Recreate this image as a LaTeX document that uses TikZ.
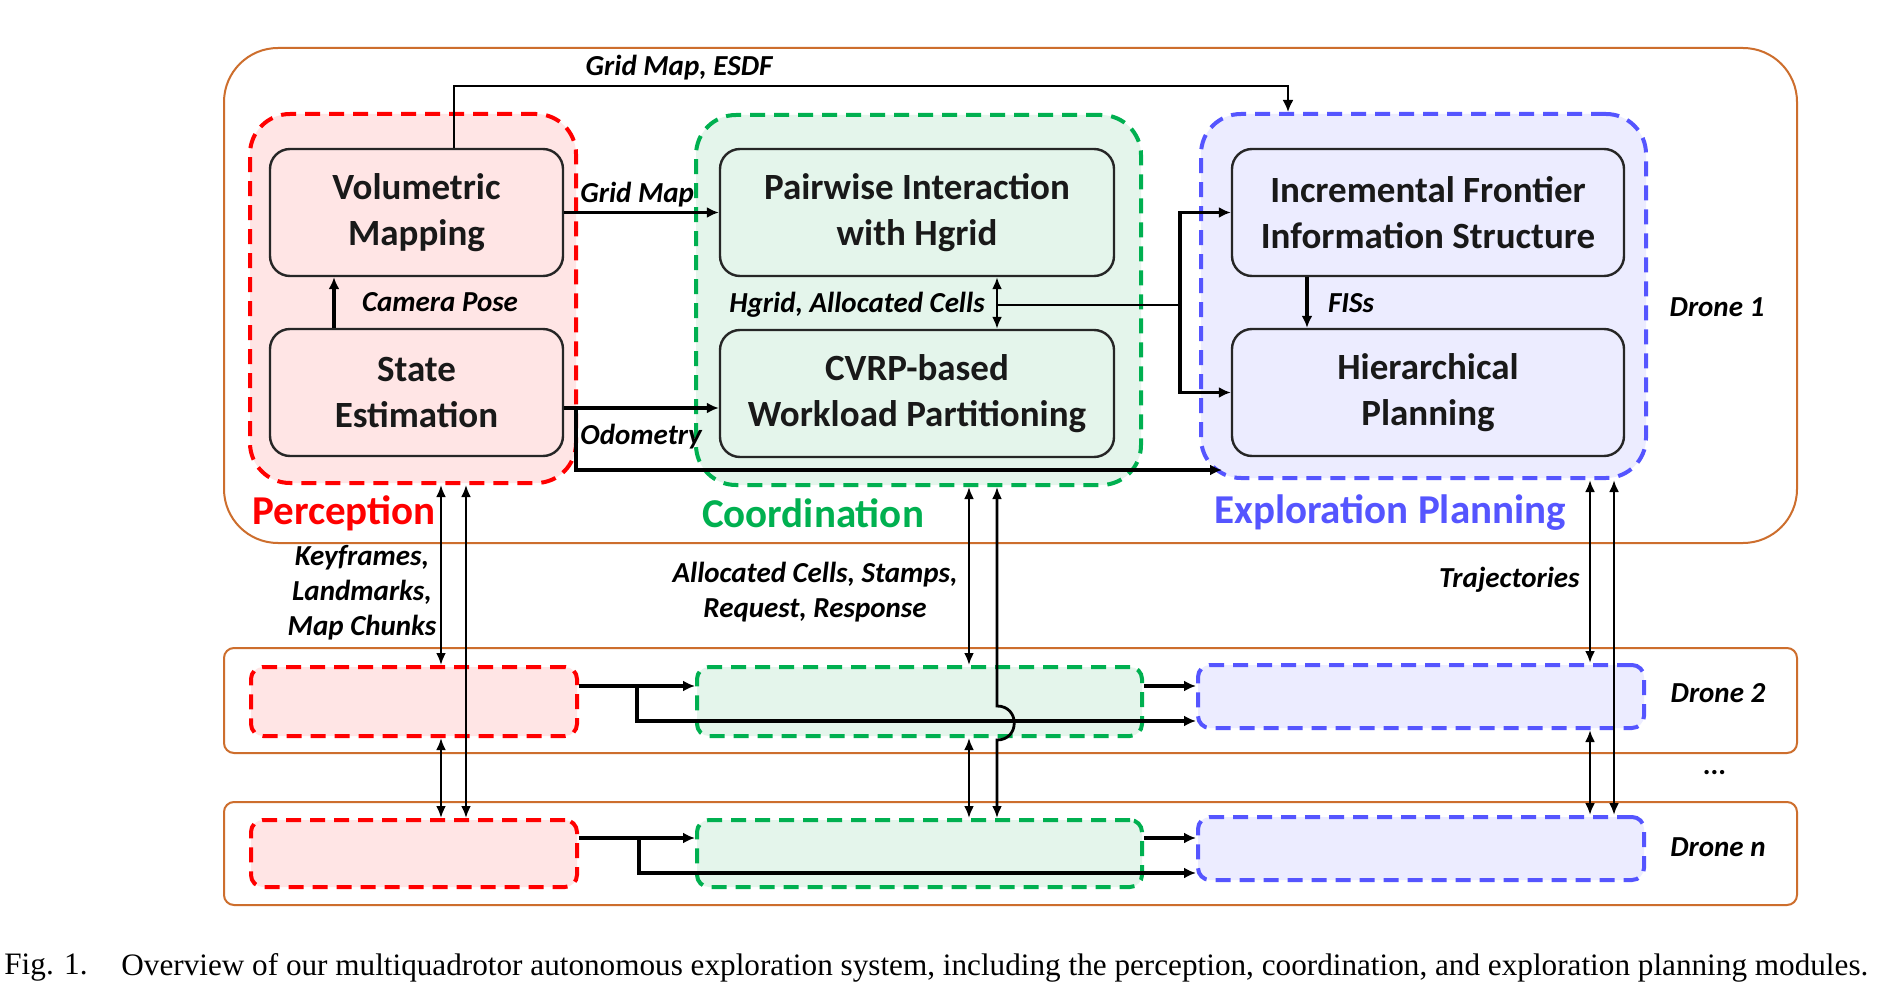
\documentclass[tikz,border=0pt]{standalone}
\usepackage{fontspec}
\setmainfont{Carlito}
\newfontfamily\capfont{Liberation Serif}
\usetikzlibrary{arrows.meta,fit}

\definecolor{perred}{RGB}{255,0,0}
\definecolor{perfill}{RGB}{255,229,229}
\definecolor{coogreen}{RGB}{0,176,80}
\definecolor{coofill}{RGB}{228,245,235}
\definecolor{expblue}{RGB}{85,85,255}
\definecolor{expfill}{RGB}{236,236,255}
\definecolor{droneorange}{RGB}{205,110,45}
\definecolor{boxline}{RGB}{38,38,38}

\begin{document}
\begin{tikzpicture}[x=0.5pt,y=-0.5pt,
  frame/.style={draw=droneorange, line width=1pt, rounded corners=5pt, inner sep=0pt},
  grp/.style n args={2}{draw=#1, fill=#2, line width=2pt, dash pattern=on 7.5pt off 4.5pt, rounded corners=20pt, inner sep=0pt},
  box/.style={draw=boxline, line width=1.2pt, rounded corners=10pt, minimum width=146.5pt, minimum height=63.5pt, align=center, text=black!90, font=\fontsize{18.5}{23}\selectfont\bfseries},
  lbl/.style={inner sep=0pt, font=\fontsize{14.5}{17.5}\selectfont\bfseries\itshape},
  ttl/.style={inner sep=0pt, font=\fontsize{20.5}{24}\selectfont\bfseries},
  arr/.style={-{Latex[length=6pt,width=5.5pt]}, line width=1.6pt},
  dbl/.style={{Latex[length=6pt,width=5pt]}-{Latex[length=6pt,width=5pt]}, line width=1.4pt}]
%%%%%%%%%%%%%%%%%%%%%%%%%%%%%%%%%%%%%%%%%%% HELP LINES
%\draw[help lines] (0,0) grid[step=100] (1884,1005);
\fill[white] (0,0) rectangle (1884,1005);
\useasboundingbox (0,0) rectangle (1884,1005);

%%%%%%%%%%%%%%%%%%%%%%%%%%%%%%%%%%%%%%%%%%% drones
\node[frame, rounded corners=27pt, fit={(224,48) (1797,543)}] (d1) {};
\node[frame, fit={(224,648) (1797,753)}] (d2) {};
\node[frame, fit={(224,802) (1797,905)}] (dn) {};

%%%%% modules
\node[grp={perred}{perfill}, fit={(250,114) (576,483)}] (per) {};
\node[grp={coogreen}{coofill}, fit={(696,115) (1141,485)}] (coo) {};
\node[grp={expblue}{expfill}, fit={(1201,114) (1646,478)}] (exp) {};
\node[grp={perred}{perfill}, rounded corners=6pt, fit={(251,667) (577,736)}] (per2) {};
\node[grp={coogreen}{coofill}, rounded corners=6pt, fit={(697,667) (1142,736)}] (coo2) {};
\node[grp={expblue}{expfill}, rounded corners=6pt, fit={(1198,665) (1644,728)}] (exp2) {};
\node[grp={perred}{perfill}, rounded corners=6pt, fit={(251,820) (577,887)}] (pern) {};
\node[grp={coogreen}{coofill}, rounded corners=6pt, fit={(697,820) (1142,887)}] (coon) {};
\node[grp={expblue}{expfill}, rounded corners=6pt, fit={(1198,817) (1644,880)}] (expn) {};

\node[ttl, text=perred] (pertl) at (344,513) {Perception};
\node[ttl, text=coogreen] (cootl) at (813,513) {Coordination};
\node[ttl, text=expblue] (exptl) at (1390,513) {Exploration Planning};

%%%%% blocks
\node[box, fill=perfill] (vol) at (416.5,212.5) {Volumetric\\Mapping};
\node[box, fill=perfill] (sta) at (416.5,392.5) {State\\Estimation};
\node[box, fill=coofill, minimum width=197pt] (pair) at (917,212.5) {Pairwise Interaction\\with Hgrid};
\node[box, fill=coofill, minimum width=197pt] (cvrp) at (917,393.5) {CVRP-based\\Workload Partitioning};
\node[box, fill=expfill, minimum width=196pt] (ifis) at (1428,212.5) {Incremental Frontier\\Information Structure};
\node[box, fill=expfill, minimum width=196pt] (hier) at (1428,392.5) {Hierarchical\\Planning};

%%%%% labels
\node[lbl] (esdflbl) at (679,68) {Grid Map, ESDF};
\node[lbl, anchor=west] (gmlbl) at (580,195) {Grid Map};
\node[lbl] (camlbl) at (440,302) {Camera Pose};
\node[lbl, anchor=west] (odolbl) at (580,437) {Odometry};
\node[lbl, anchor=east] (hglbl) at (985,305) {Hgrid, Allocated Cells};
\node[lbl] (fislbl) at (1351,303) {FISs};
\node[lbl] (d1lbl) at (1717,307) {Drone 1};
\node[lbl, align=center] (kflbl) at (362,593) {Keyframes,\\Landmarks,\\Map Chunks};
\node[lbl, align=center] (acclbl) at (815,592) {Allocated Cells, Stamps,\\Request, Response};
\node[lbl, anchor=east] (trjlbl) at (1580,580) {Trajectories};
\node[lbl] (d2lbl) at (1718,693) {Drone 2};
\node[lbl] (dotlbl) at (1715,773) {...};
\node[lbl] (dnlbl) at (1718,847) {Drone n};

%%%%% turning points
\coordinate (esdfL) at (454,86);
\coordinate (esdfR) at (1288,86);
\coordinate (cam) at (334,0);
\coordinate (odo) at (576,408);
\coordinate (odoB) at (576,470);
\coordinate (odoE) at (1222,470);
\coordinate (hg) at (997,305);
\coordinate (hgR) at (1180,305);
\coordinate (fis) at (1307,0);
\coordinate (kf1) at (441,0);
\coordinate (kf2) at (466,0);
\coordinate (cc1) at (969,0);
\coordinate (cc2) at (997,0);
\coordinate (hopA) at (997,706);
\coordinate (hopB) at (997,740);
\coordinate (tj1) at (1590,0);
\coordinate (tj2) at (1614,0);
\coordinate (d2a) at (637,686);
\coordinate (d2b) at (637,721);
\coordinate (dna) at (639,838);
\coordinate (dnb) at (639,873);

%%%%% edges inside drone 1
\draw[arr, line width=1.1pt] (vol.north -| esdfL) -- (esdfL) -- (esdfR) -- (exp.north -| esdfR);
\draw[arr] (vol.east) -- (pair.west);
\draw[arr] (sta.north -| cam) -- (vol.south -| cam);
\draw[arr] (sta.east |- odo) -- (cvrp.west |- odo);
\draw[arr] (odo) -- (odoB) -- (odoE);
\draw[dbl] (pair.south -| hg) -- (cvrp.north -| hg);
\draw[line width=1.1pt] (hg) -- (hgR);
\draw[arr] (hgR) |- (ifis.west);
\draw[arr] (hgR) |- (hier.west);
\draw[arr] (ifis.south -| fis) -- (hier.north -| fis);

%%%%% edges inside drone 2 and drone n
\draw[arr] (per2.east |- d2a) -- (coo2.west |- d2a);
\draw[arr] (d2a) |- (exp2.west |- d2b);
\draw[arr] (coo2.east |- d2a) -- (exp2.west |- d2a);
\draw[arr] (pern.east |- dna) -- (coon.west |- dna);
\draw[arr] (dna) |- (expn.west |- dnb);
\draw[arr] (coon.east |- dna) -- (expn.west |- dna);

%%%%% edges between drones
\draw[dbl] (per.south -| kf1) -- (per2.north -| kf1);
\draw[dbl] (per2.south -| kf1) -- (pern.north -| kf1);
\draw[dbl] (per.south -| kf2) -- (pern.north -| kf2);
\draw[dbl] (coo.south -| cc1) -- (coo2.north -| cc1);
\draw[dbl] (coo2.south -| cc1) -- (coon.north -| cc1);
\draw[dbl] (coo.south -| cc2) -- (hopA) .. controls +(23,0) and +(23,0) .. (hopB) -- (coon.north -| cc2);
\draw[dbl] (exp.south -| tj1) -- (exp2.north -| tj1);
\draw[dbl] (exp2.south -| tj1) -- (expn.north -| tj1);
\draw[dbl] (exp.south -| tj2) -- (expn.north -| tj2);

%%%%% caption
\node[anchor=west, inner sep=0pt, font=\capfont\fontsize{15.6}{18}\selectfont] (capnum) at (4,968) {Fig. 1.};
\node[anchor=west, inner sep=0pt, font=\capfont\fontsize{15.6}{18}\selectfont] (captxt) at (121,968) {Overview of our multiquadrotor autonomous exploration system, including the perception, coordination, and exploration planning modules.};
\end{tikzpicture}
\end{document}
